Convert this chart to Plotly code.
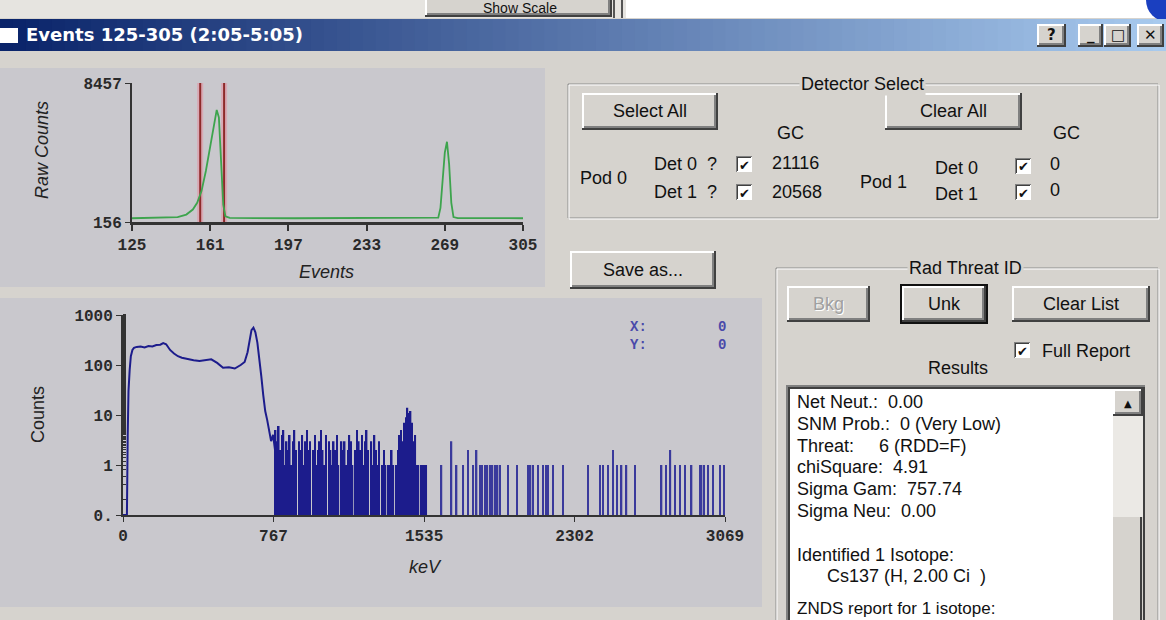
import numpy as np
import plotly.graph_objects as go

W, H = 1166, 620

# ---- top chart: gross counts per event ----
events = [125, 140, 146, 150, 153, 155, 157, 159, 161, 162, 163, 164, 165, 166, 167, 168, 170,
          200, 240, 264, 266, 267, 268, 269, 270, 271, 272, 273, 275, 290, 305]
raw_counts = [380, 400, 450, 600, 900, 1300, 2000, 3200, 4700, 5600, 6300, 6850, 6400, 3900, 1200, 500, 400,
              380, 390, 380, 420, 1000, 2600, 4300, 4950, 3600, 1300, 450, 390, 380, 380]
roi_events = [156.4, 167.4]
event_ticks = [125, 161, 197, 233, 269, 305]
raw_ticks = [156, 8457]

# ---- bottom chart: spectrum ----
cont_kev = [0, 20, 24, 28, 34, 40, 48, 56, 70, 90, 110, 130, 150, 170, 190, 205, 220, 240, 260, 280,
            300, 330, 360, 390, 420, 450, 480, 510, 540, 570, 600, 620, 635, 645, 655, 665, 675, 685,
            695, 705, 715, 725, 735, 745, 755, 765, 775]
cont_counts = [0, 0, 4, 30, 80, 150, 200, 220, 230, 235, 225, 240, 235, 250, 255, 275, 260, 200, 170, 150,
               140, 130, 125, 120, 125, 130, 110, 88, 90, 85, 100, 115, 180, 320, 500, 560, 450, 280,
               140, 60, 25, 12, 8, 5, 3, 4, 2]
noise_start, noise_step = 778, 8
noise_counts = [5, 3, 6, 2, 4, 5, 1, 3,
                2, 4, 1, 3, 5, 2, 0, 3, 2, 4, 1, 3, 5, 2, 3, 0, 2, 4, 1, 2,
                3, 5, 2, 1, 4, 0, 3, 2, 1, 3, 2, 4, 1, 0, 3, 2, 3, 1, 2, 4, 3, 1, 0, 2, 5,
                3, 2, 4, 1, 3, 5, 2, 0, 3, 1, 4, 2, 1, 3, 0, 1, 2, 1, 0, 1, 1, 2, 1, 0, 1,
                2, 4, 5, 3, 7, 9, 14, 11, 12, 7, 3, 4, 1, 1, 0, 1, 1, 1, 1, 0]
sparse_kev = [1624, 1675, 1701, 1735, 1760, 1786, 1803, 1820, 1830, 1845, 1858, 1871, 1884, 1896, 1910,
              1922, 1964, 2007, 2066, 2078, 2091, 2117, 2142, 2155, 2168, 2193, 2244, 2372, 2431, 2448,
              2474, 2499, 2519, 2542, 2567, 2610, 2746, 2768, 2791, 2813, 2839, 2864, 2899, 2941, 2950,
              2961, 2983, 3009, 3043, 3066]
sparse_counts = [1, 3, 1, 1, 2, 1, 2, 1, 1, 1, 1, 1, 1, 1, 1,
                 1, 1, 1, 1, 1, 1, 1, 1, 1, 1, 1, 1, 1, 1, 1,
                 1, 2, 1, 1, 1, 1, 1, 1, 2, 1, 1, 1, 1, 1, 1,
                 1, 1, 1, 1, 1]
kev_ticks = [0, 767, 1535, 2302, 3069]
count_ticks = [0.1, 1, 10, 100, 1000]
count_labels = ['0.', '1', '10', '100', '1000']

results_lines = ['Net Neut.:  0.00', 'SNM Prob.:  0 (Very Low)', 'Threat:     6 (RDD=F)',
                 'chiSquare:  4.91', 'Sigma Gam:  757.74', 'Sigma Neu:  0.00', '',
                 'Identified 1 Isotope:', '      Cs137 (H, 2.00 Ci  )']
results_last = 'ZNDS report for 1 isotope:'

BODY = '#d6d3ce'
PANEL = '#c9c8cd'
UI_FONT = 'Liberation Sans'
MONO = 'Liberation Mono'
UI_SIZE = 18

shapes, notes = [], []


def px(x):
    return x / W


def py(y):
    return 1 - y / H


def rect(x0, y0, x1, y1, fill, line=None, lw=1):
    shapes.append(dict(type='rect', xref='paper', yref='paper', layer='below',
                       x0=px(x0), x1=px(x1), y0=py(y1), y1=py(y0), fillcolor=fill,
                       line=dict(color=line if line else fill, width=lw if line else 0)))


def seg(x0, y0, x1, y1, color, lw=1):
    shapes.append(dict(type='line', xref='paper', yref='paper', layer='below',
                       x0=px(x0), x1=px(x1), y0=py(y0), y1=py(y1), line=dict(color=color, width=lw)))


def text(x, y, s, size=UI_SIZE, color='#111', anchor='left', family=UI_FONT, **kw):
    notes.append(dict(xref='paper', yref='paper', x=px(x), y=py(y), text=s, showarrow=False,
                      xanchor=anchor, yanchor='middle', font=dict(family=family, size=size, color=color), **kw))


def button(x0, y0, x1, y1, label, color='#111', focus=False):
    if focus:
        rect(x0 - 2, y0 - 2, x1 + 2, y1 + 2, '#111111')
    rect(x0, y0, x1, y1, '#404040')
    rect(x0, y0, x1 - 2, y1 - 2, '#ffffff')
    rect(x0 + 2, y0 + 2, x1 - 2, y1 - 2, '#808080')
    rect(x0 + 2, y0 + 2, x1 - 4, y1 - 4, BODY)
    if color == '#a0a0a0':
        text((x0 + x1) / 2 + 1, (y0 + y1) / 2 + 1, label, color='#ffffff', anchor='center')
    text((x0 + x1) / 2, (y0 + y1) / 2, label, color=color, anchor='center')


def checkbox(x0, y0, x1, y1):
    rect(x0, y0, x1, y1, '#808080')
    rect(x0 + 1, y0 + 1, x1, y1, '#ffffff')
    rect(x0 + 1, y0 + 1, x1 - 1, y1 - 1, '#404040')
    rect(x0 + 2, y0 + 2, x1 - 1, y1 - 1, '#ffffff')
    text((x0 + x1) / 2, (y0 + y1) / 2 + 1, '✔', size=13, color='#111', anchor='center', family='DejaVu Sans')


def groupbox(x0, y0, x1, y1, title, tx):
    rect(x0, y0, x1, y1, 'rgba(0,0,0,0)', '#8c8c8c', 1)
    rect(x0 + 1, y0 + 1, x1 + 1, y1 + 1, 'rgba(0,0,0,0)', '#ffffff', 1)
    text(tx, y0, title, anchor='center', bgcolor=BODY)


# ---- window chrome ----
rect(0, 0, 612, 18, '#e6e4e0')
button(425, -20, 612, 17, '')
text(520, 8, 'Show Scale', size=14, anchor='center')
rect(612, 0, 626, 18, '#e6e4e0')
seg(614, 0, 614, 18, '#555', 2)
seg(622, 0, 622, 18, '#555', 2)
rect(626, 0, W, 18, '#ffffff')
shapes.append(dict(type='circle', xref='paper', yref='paper', layer='below', x0=px(1146), x1=px(1190),
                   y0=py(22), y1=py(-22), fillcolor='#1a3fc0', line=dict(width=0)))

c0, c1 = np.array([10, 36, 106]), np.array([168, 202, 238])
n_strip = 90
for i in range(n_strip):
    c = c0 + (c1 - c0) * i / (n_strip - 1)
    rect(W * i / n_strip, 19, W * (i + 1) / n_strip + 1, 51, 'rgb(%d,%d,%d)' % tuple(c))
rect(0, 28, 18, 43, '#ffffff')
text(24, 35, '<b>Events 125-305 (2:05-5:05)</b>', size=18, color='#ffffff', family='DejaVu Sans')
for (bx0, bx1, lab) in [(1037, 1066, '<b>?</b>'), (1078, 1103, '<b>_</b>'), (1104, 1131, '□'), (1137, 1164, '<b>✕</b>')]:
    button(bx0, 24, bx1, 47, '')
    text((bx0 + bx1) / 2, 35, lab, size=15, anchor='center', family='DejaVu Sans')

# ---- chart panels ----
rect(0, 68, 545, 287, PANEL)
rect(0, 298, 762, 607, PANEL)

# ---- detector select ----
groupbox(568, 84, 1158, 218, 'Detector Select', 862)
button(582, 93, 718, 130, 'Select All')
button(885, 93, 1022, 130, 'Clear All')
text(790, 133, 'GC', anchor='center')
text(1066, 133, 'GC', anchor='center')
text(603, 178, 'Pod 0', anchor='center')
text(652, 164, 'Det 0  ?')
text(652, 192, 'Det 1  ?')
checkbox(736, 156, 752, 172)
checkbox(736, 184, 752, 200)
text(770, 163, '21116')
text(770, 192, '20568')
text(883, 182, 'Pod 1', anchor='center')
text(933, 168, 'Det 0')
text(933, 194, 'Det 1')
checkbox(1015, 158, 1031, 174)
checkbox(1015, 184, 1031, 200)
text(1048, 164, '0')
text(1048, 190, '0')

button(570, 251, 716, 289, 'Save as...')

# ---- rad threat id ----
groupbox(776, 268, 1158, 650, 'Rad Threat ID', 965)
button(787, 286, 870, 322, 'Bkg', color='#a0a0a0')
button(902, 286, 986, 322, 'Unk', focus=True)
button(1012, 286, 1150, 322, 'Clear List')
checkbox(1014, 342, 1030, 358)
text(1040, 351, 'Full Report')
text(958, 368, 'Results', anchor='center')
rect(786, 385, 1145, 640, '#808080')
rect(788, 387, 1145, 640, '#404040')
rect(790, 389, 1143, 640, '#ffffff')
rect(1113, 389, 1143, 640, '#ebe9e5')
button(1113, 389, 1143, 416, '')
text(1128, 403, '▲', size=10, anchor='center', family='DejaVu Sans')
rect(1113, 517, 1143, 640, BODY)
seg(1141, 517, 1141, 640, '#404040', 2)
for i, line in enumerate(results_lines):
    if line:
        text(795, 402 + 21.8 * i, line.replace(' ', '&nbsp;'), size=18)
text(795, 608, results_last, size=17)

# ---- spectrum cursor readout ----
text(628, 336, '<b>X:<br>Y:</b>', size=14, color='#4a4aaa', family=MONO)
text(722, 336, '<b>0<br>0</b>', size=14, color='#4a4aaa', family=MONO, anchor='center')

# axis titles
text(42, 150, '<i>Raw Counts</i>', size=18, color='#222', anchor='center', textangle=-90)
text(326, 272, '<i>Events</i>', size=18, color='#222', anchor='center')
text(38, 415, 'Counts', size=18, color='#222', anchor='center', textangle=-90)
text(425, 567, '<i>keV</i>', size=18, color='#222', anchor='center')

fig = go.Figure()

# top chart
for e in roi_events:
    fig.add_trace(go.Scatter(x=[e, e], y=[raw_ticks[0], raw_ticks[1]], mode='lines',
                             line=dict(color='rgba(235,130,150,0.45)', width=6), xaxis='x', yaxis='y'))
    fig.add_trace(go.Scatter(x=[e, e], y=[raw_ticks[0], raw_ticks[1]], mode='lines',
                             line=dict(color='#8e2a2a', width=2), xaxis='x', yaxis='y'))
fig.add_trace(go.Scatter(x=events, y=raw_counts, mode='lines', line=dict(color='#3da44d', width=1.8),
                         xaxis='x', yaxis='y'))

# bottom chart
noise_kev = [noise_start + noise_step * i for i in range(len(noise_counts))]
fig.add_trace(go.Bar(x=noise_kev, y=noise_counts, width=noise_step,
                     marker=dict(color='#1c1c8c', line=dict(width=0)), xaxis='x2', yaxis='y2'))
fig.add_trace(go.Bar(x=sparse_kev, y=sparse_counts, width=7,
                     marker=dict(color='#3a3a9c', line=dict(width=0)), xaxis='x2', yaxis='y2'))
cont_plot = np.where(np.array(cont_counts) > 0, cont_counts, count_ticks[0])
fig.add_trace(go.Scatter(x=cont_kev, y=cont_plot, mode='lines', line=dict(color='#1c1c8c', width=2),
                         xaxis='x2', yaxis='y2', cliponaxis=False))

tickfont = dict(family=MONO, size=16, color='#2a2a2a', weight='bold')
axis_common = dict(showgrid=False, zeroline=False, showline=True, linecolor='#333333', automargin=False,
                   ticks='outside', tickcolor='#333333', tickfont=tickfont, fixedrange=True)

fig.update_layout(
    width=W, height=H, margin=dict(l=0, r=0, t=0, b=0, autoexpand=False),
    paper_bgcolor=BODY, plot_bgcolor='rgba(0,0,0,0)', showlegend=False,
    barmode='overlay', shapes=shapes, annotations=notes,
    xaxis=dict(domain=[px(132), px(523)], range=[125, 305], tickvals=event_ticks, anchor='y',
               linewidth=3, ticklen=6, tickwidth=2, **axis_common),
    yaxis=dict(domain=[py(222), py(83)], range=[156, 8457], tickvals=raw_ticks, anchor='x',
               linewidth=2, ticklen=5, tickwidth=1, **axis_common),
    xaxis2=dict(domain=[px(123), px(725)], range=[0, 3069], tickvals=kev_ticks, anchor='y2',
                linewidth=2, ticklen=5, tickwidth=1, **axis_common),
    yaxis2=dict(domain=[py(515), py(315)], type='log', range=[-1, 3], tickvals=count_ticks,
                ticktext=count_labels, anchor='x2', linewidth=2, ticklen=5, tickwidth=1,
                minor=dict(ticks='inside', ticklen=3, tickcolor='#333333'), **axis_common),
)

fig.write_html("out.html", config={'displayModeBar': False},
               post_script="document.body.style.margin='0';document.body.style.overflow='hidden';")
